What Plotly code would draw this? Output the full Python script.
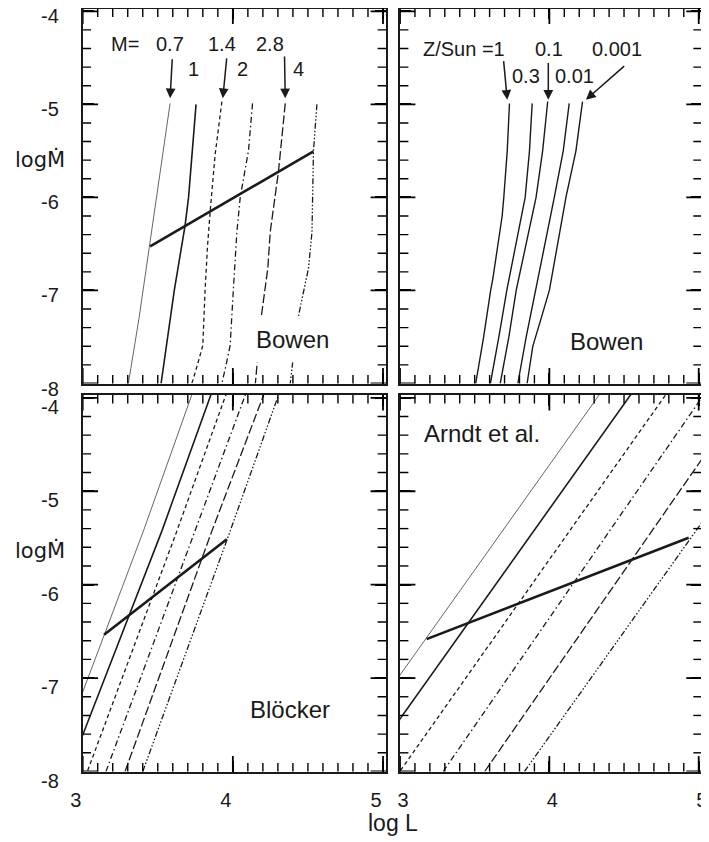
import plotly.graph_objects as go

# ---------------- data ----------------
# Panel (a): Bowen models, curves for different masses (log L vs log Mdot)
mass_labels_top = ["0.7", "1.4", "2.8"]
mass_labels_bottom = ["1", "2", "4"]
bowen_m07_logl = [3.582, 3.49, 3.444, 3.375, 3.304]
bowen_m07_logmdot = [-4.99, -6.0, -6.53, -7.3, -8.0]
bowen_m1_logl = [3.755, 3.705, 3.682, 3.61, 3.522]
bowen_m1_logmdot = [-5.0, -6.0, -6.3, -7.0, -8.0]
bowen_m14_logl = [3.927, 3.882, 3.849, 3.831, 3.815, 3.80, 3.764, 3.727]
bowen_m14_logmdot = [-4.97, -5.54, -6.15, -6.53, -7.0, -7.59, -7.8, -8.0]
bowen_m2_logl = [4.131, 4.104, 4.049, 4.027, 4.003, 3.982, 3.955, 3.927]
bowen_m2_logmdot = [-4.99, -5.5, -6.0, -6.37, -7.0, -7.59, -7.8, -8.0]
bowen_m28_logl = [4.349, 4.304, 4.249, 4.233, 4.187, 4.155, 4.15]
bowen_m28_logmdot = [-4.99, -5.72, -6.37, -6.76, -7.31, -7.87, -8.0]
bowen_m4_logl = [4.56, 4.537, 4.527, 4.504, 4.431, 4.382]
bowen_m4_logmdot = [-5.0, -5.5, -6.37, -6.76, -7.32, -8.0]
bowen_tip_logl = [3.449, 4.537]
bowen_tip_logmdot = [-6.527, -5.505]

# Panel (b): Bowen models, curves for different metallicities
z_labels_top = ["0.1", "0.001"]
z_labels_bottom = ["0.3", "0.01"]
z1_logl = [3.733, 3.718, 3.695, 3.684, 3.622, 3.607, 3.56, 3.507]
z1_logmdot = [-4.99, -5.5, -6.0, -6.2, -6.87, -7.0, -7.5, -8.0]
z03_logl = [3.885, 3.867, 3.838, 3.715, 3.662, 3.605]
z03_logmdot = [-4.99, -5.5, -6.0, -7.0, -7.5, -8.0]
z01_logl = [3.989, 3.955, 3.911, 3.778, 3.729, 3.671]
z01_logmdot = [-4.97, -5.5, -6.0, -7.0, -7.5, -8.0]
z001_logl = [4.133, 4.093, 4.033, 3.905, 3.845, 3.789]
z001_logmdot = [-4.99, -5.5, -6.0, -7.0, -7.5, -8.0]
z0001_logl = [4.222, 4.178, 4.111, 4.0, 3.945, 3.889, 3.851]
z0001_logmdot = [-4.97, -5.5, -6.0, -7.0, -7.3, -7.6, -8.0]

# Panel (c): Bloecker
bl_m07_logl = [2.95, 3.0, 3.404, 3.715, 3.742]
bl_m07_logmdot = [-7.36, -7.15, -5.427, -4.021, -3.9]
bl_m1_logl = [2.95, 3.0, 3.527, 3.842, 3.869]
bl_m1_logmdot = [-7.81, -7.61, -5.427, -4.021, -3.9]
bl_m14_logl = [3.0, 3.031, 3.627, 3.942, 3.969]
bl_m14_logmdot = [-8.13, -8.0, -5.427, -4.021, -3.9]
bl_m2_logl = [3.155, 3.749, 4.071, 4.099]
bl_m2_logmdot = [-8.0, -5.427, -4.021, -3.9]
bl_m28_logl = [3.282, 3.86, 4.193, 4.222]
bl_m28_logmdot = [-8.0, -5.427, -4.021, -3.9]
bl_m4_logl = [3.40, 3.982, 4.293, 4.32]
bl_m4_logmdot = [-8.0, -5.427, -4.021, -3.9]
bl_tip_logl = [3.142, 3.96]
bl_tip_logmdot = [-6.537, -5.515]

# Panel (d): Arndt et al.
ar_m07_logl = [2.95, 4.36]
ar_m07_logmdot = [-7.08, -3.91]
ar_m1_logl = [2.95, 4.57]
ar_m1_logmdot = [-7.55, -3.91]
ar_m14_logl = [2.95, 4.80]
ar_m14_logmdot = [-8.11, -3.92]
ar_m2_logl = [3.289, 5.05]
ar_m2_logmdot = [-8.0, -3.93]
ar_m28_logl = [3.567, 5.05]
ar_m28_logmdot = [-8.0, -4.59]
ar_m4_logl = [3.833, 5.05]
ar_m4_logmdot = [-8.0, -5.27]
ar_tip_logl = [3.178, 4.933]
ar_tip_logmdot = [-6.583, -5.498]

X_RANGE = [3, 5.02]
Y_RANGE = [-8, -3.97]
x_ticks = [3, 4, 5]
x_ticktext = ["3", "4", "5"]
y_ticks = [-8, -7, -6, -5, -4]
y_ticktext = ["-8", "-7", "-6", "-5", "-4"]
x_minor = [round(3 + 0.1 * i, 1) for i in range(1, 20) if i % 10]
y_minor = [round(-8 + 0.2 * i, 1) for i in range(1, 20) if i % 5]

# ---------------- styles ----------------
INK = "#1a1a1a"
FONT = "Liberation Sans, Arial, Helvetica, sans-serif"
mass_styles = [
    dict(width=0.9, color="#555555", dash="solid"),
    dict(width=1.6, color=INK, dash="solid"),
    dict(width=1.3, color=INK, dash="4px,3px"),
    dict(width=1.3, color=INK, dash="6px,3px,1.5px,3px"),
    dict(width=1.3, color=INK, dash="9px,3px"),
    dict(width=1.3, color=INK, dash="6px,2px,1.5px,2px,1.5px,2px,1.5px,2px"),
]
tip_style = dict(width=2.6, color=INK)
MAJOR_LEN, MINOR_LEN = 11, 6

fig = go.Figure()

def add(xs, ys, style, xa, ya):
    fig.add_trace(go.Scatter(x=xs, y=ys, mode="lines", line=style,
                             xaxis=xa, yaxis=ya, showlegend=False,
                             hoverinfo="skip"))

bowen_curves = [(bowen_m07_logl, bowen_m07_logmdot), (bowen_m1_logl, bowen_m1_logmdot),
                (bowen_m14_logl, bowen_m14_logmdot), (bowen_m2_logl, bowen_m2_logmdot),
                (bowen_m28_logl, bowen_m28_logmdot), (bowen_m4_logl, bowen_m4_logmdot)]
for (xs, ys), st in zip(bowen_curves, mass_styles):
    add(xs, ys, st, "x", "y")
add(bowen_tip_logl, bowen_tip_logmdot, tip_style, "x", "y")

z_curves = [(z1_logl, z1_logmdot), (z03_logl, z03_logmdot), (z01_logl, z01_logmdot),
            (z001_logl, z001_logmdot), (z0001_logl, z0001_logmdot)]
for xs, ys in z_curves:
    add(xs, ys, dict(width=1.4, color=INK), "x2", "y2")

bl_curves = [(bl_m07_logl, bl_m07_logmdot), (bl_m1_logl, bl_m1_logmdot),
             (bl_m14_logl, bl_m14_logmdot), (bl_m2_logl, bl_m2_logmdot),
             (bl_m28_logl, bl_m28_logmdot), (bl_m4_logl, bl_m4_logmdot)]
for (xs, ys), st in zip(bl_curves, mass_styles):
    add(xs, ys, st, "x3", "y3")
add(bl_tip_logl, bl_tip_logmdot, tip_style, "x3", "y3")

ar_curves = [(ar_m07_logl, ar_m07_logmdot), (ar_m1_logl, ar_m1_logmdot),
             (ar_m14_logl, ar_m14_logmdot), (ar_m2_logl, ar_m2_logmdot),
             (ar_m28_logl, ar_m28_logmdot), (ar_m4_logl, ar_m4_logmdot)]
for (xs, ys), st in zip(ar_curves, mass_styles):
    add(xs, ys, st, "x4", "y4")
add(ar_tip_logl, ar_tip_logmdot, tip_style, "x4", "y4")

# tick marks on all four sides of each frame, drawn at the axis ends; the
# outer half of each mark is clipped by the plot area so the ticks point inward
def frame_ticks(xa, ya):
    for xv, yv, ln, w in ((x_ticks, y_ticks, MAJOR_LEN, 1.8),
                          (x_minor, y_minor, MINOR_LEN, 1.4)):
        n, m = len(xv), len(yv)
        fig.add_trace(go.Scatter(
            x=xv + xv, y=[Y_RANGE[0]] * n + [Y_RANGE[1]] * n, mode="markers",
            marker=dict(symbol="line-ns-open", size=2 * ln, color="#000000",
                        line=dict(width=w, color="#000000")),
            cliponaxis=True, xaxis=xa, yaxis=ya, showlegend=False, hoverinfo="skip"))
        fig.add_trace(go.Scatter(
            x=[X_RANGE[0]] * m + [X_RANGE[1]] * m, y=yv + yv, mode="markers",
            marker=dict(symbol="line-ew-open", size=2 * ln, color="#000000",
                        line=dict(width=w, color="#000000")),
            cliponaxis=True, xaxis=xa, yaxis=ya, showlegend=False, hoverinfo="skip"))

for xa, ya in (("x", "y"), ("x2", "y2"), ("x3", "y3"), ("x4", "y4")):
    frame_ticks(xa, ya)

# ---------------- axes ----------------
OFF = 8  # page body margin of the html page
W, H = 709 - OFF, 842 - OFF

def dx(px):
    return min(1.0, max(0.0, (px - OFF) / W))

def dy(py):
    return min(1.0, max(0.0, 1 - (py - OFF) / H))

xl = [dx(82.7), dx(386)]
xr = [dx(400), dx(701.7)]
yt = [dy(383.5), dy(8.5)]
yb = [dy(771.5), dy(395)]

def common(labels):
    return dict(showticklabels=labels, ticks="inside", ticklen=MAJOR_LEN, tickwidth=1.8,
                tickcolor="#000000", showline=True, linecolor=INK, linewidth=1.6,
                mirror="ticks", showgrid=False, zeroline=False, automargin=False,
                ticklabeloverflow="allow",
                tickfont=dict(family=FONT, size=20, color=INK))

def xaxis(domain, anchor, labels, shift):
    d = common(labels)
    d.update(domain=domain, anchor=anchor, range=X_RANGE,
             tickmode="array", tickvals=x_ticks, ticktext=x_ticktext,
             ticklabelstandoff=10, ticklabelshift=shift)
    return d

def yaxis(domain, anchor, labels, shift):
    d = common(labels)
    d.update(domain=domain, anchor=anchor, range=Y_RANGE,
             tickmode="array", tickvals=y_ticks, ticktext=y_ticktext,
             ticklabelstandoff=18, ticklabelshift=shift)
    return d

fig.update_layout(
    width=W, height=H, margin=dict(l=0, r=0, t=0, b=0, autoexpand=False),
    paper_bgcolor="white", plot_bgcolor="white", showlegend=False,
    hovermode=False,
    xaxis=xaxis(xl, "y", False, 0),
    yaxis=yaxis(yt, "x", True, 5),
    xaxis2=xaxis(xr, "y2", False, 0),
    yaxis2=yaxis(yt, "x2", False, 0),
    xaxis3=xaxis(xl, "y3", True, -7),
    yaxis3=yaxis(yb, "x3", True, 9),
    xaxis4=xaxis(xr, "y4", True, 3),
    yaxis4=yaxis(yb, "x4", False, 0),
)

# ---------------- annotations ----------------
ann = []
def text(x, y, s, xr_, yr_, size=20, family=FONT, **kw):
    ann.append(dict(x=x, y=y, xref=xr_, yref=yr_, text=s, showarrow=False,
                    xanchor="center", yanchor="middle",
                    font=dict(family=family, size=size, color=INK), **kw))

def arrow(x, y, ax, ay, xr_, yr_):
    ann.append(dict(x=x, y=y, ax=ax, ay=ay, xref=xr_, yref=yr_, axref=xr_, ayref=yr_,
                    text="", showarrow=True, arrowhead=2, arrowsize=1.3,
                    arrowwidth=1.5, arrowcolor=INK, standoff=0, startstandoff=0))

# Panel a labels
text(3.282, -4.35, "M=", "x", "y")
for lab, xx in zip(mass_labels_top, [3.582, 3.929, 4.249]):
    text(xx, -4.35, lab, "x", "y")
for lab, xx in zip(mass_labels_bottom, [3.735, 4.062, 4.435]):
    text(xx, -4.625, lab, "x", "y")
arrow(3.582, -4.935, 3.597, -4.50, "x", "y")
arrow(3.933, -4.935, 3.96, -4.49, "x", "y")
arrow(4.349, -4.935, 4.344, -4.47, "x", "y")
text(4.399, -7.53, "Bowen", "x", "y", size=24, bgcolor="white", borderpad=9)

# Panel b labels
text(3.427, -4.41, "Z/Sun =1", "x2", "y2")
for lab, xx in zip(z_labels_top, [4.0, 4.456]):
    text(xx, -4.41, lab, "x2", "y2")
for lab, xx in zip(z_labels_bottom, [3.845, 4.167]):
    text(xx, -4.70, lab, "x2", "y2")
arrow(3.718, -4.95, 3.693, -4.52, "x2", "y2")
arrow(3.993, -4.95, 3.993, -4.54, "x2", "y2")
arrow(4.245, -4.95, 4.511, -4.575, "x2", "y2")
text(4.383, -7.55, "Bowen", "x2", "y2", size=24)

text(4.382, -7.337, "Blöcker", "x3", "y3", size=24)
text(3.55, -4.378, "Arndt et al.", "x4", "y4", size=24)

# axis titles
text(dx(40), dy(160), "logṀ", "paper", "paper", size=21, family="DejaVu Sans")
text(dx(40), dy(550), "logṀ", "paper", "paper", size=21, family="DejaVu Sans")
text(dx(393), dy(823), "log L", "paper", "paper", size=23)

fig.update_layout(annotations=ann)
fig.write_html("out.html")
